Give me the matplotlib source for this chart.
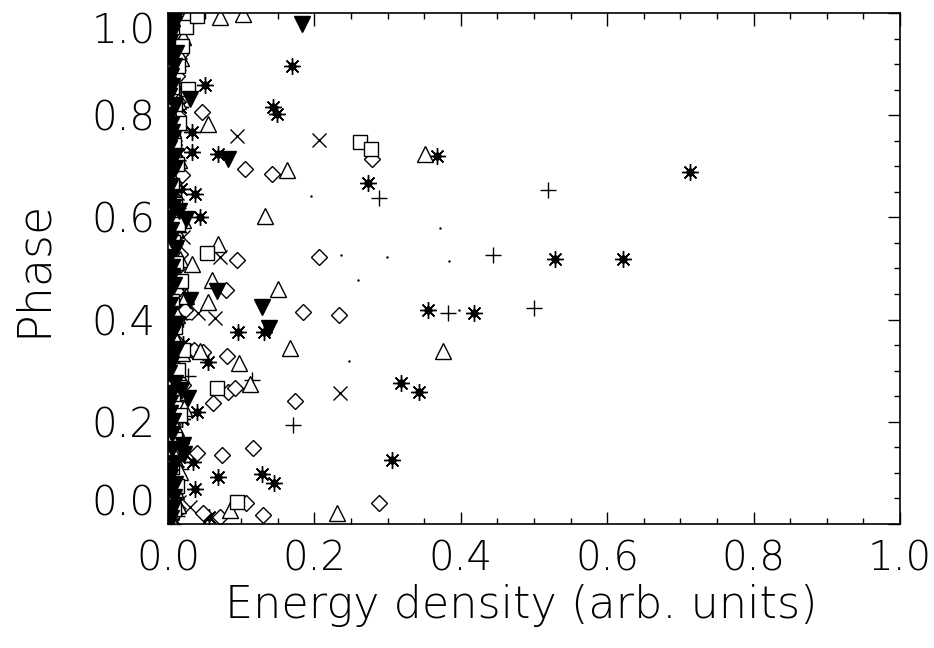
import matplotlib
matplotlib.use("Agg")
import matplotlib.pyplot as plt
from matplotlib.ticker import MultipleLocator

# ---- data (energy density, phase) ----

# asterisks
star_x = [0.004, 0.011, 0.007, 0.015, 0.006, 0.019, 0.009, 0.013, 0.005, 0.021, 0.008, 0.012, 0.017,
          0.006, 0.010, 0.014, 0.007, 0.018, 0.005, 0.011, 0.009, 0.016, 0.006, 0.012, 0.008, 0.014,
          0.051, 0.169, 0.143, 0.149, 0.068, 0.367, 0.273, 0.713, 0.529, 0.622, 0.355, 0.418, 0.318,
          0.343, 0.037, 0.044, 0.096, 0.131, 0.055, 0.040, 0.034, 0.068, 0.128, 0.145, 0.037, 0.056,
          0.306, 0.033, 0.033]
star_y = [0.012, 0.048, 0.083, 0.131, 0.172, 0.205, 0.243, 0.281, 0.318, 0.352, 0.391, 0.428, 0.462,
          0.497, 0.536, 0.571, 0.612, 0.655, 0.693, 0.731, 0.778, 0.815, 0.862, 0.905, 0.942, 0.981,
          0.859, 0.896, 0.815, 0.802, 0.724, 0.720, 0.667, 0.688, 0.519, 0.519, 0.418, 0.412, 0.276,
          0.259, 0.645, 0.600, 0.375, 0.375, 0.316, 0.220, 0.122, 0.092, 0.098, 0.081, 0.069, 0.014,
          0.125, 0.767, 0.727]

# asterisks piled up against the phase axis
pile_x = [0.003, 0.007, 0.004, 0.009, 0.002, 0.006, 0.010, 0.003, 0.008, 0.005, 0.002, 0.007, 0.004,
          0.009, 0.003, 0.006, 0.011, 0.004, 0.002, 0.008, 0.005, 0.003, 0.007, 0.010, 0.004, 0.006,
          0.002, 0.009, 0.005, 0.003, 0.008, 0.004, 0.006, 0.002, 0.010, 0.005, 0.003, 0.007, 0.004,
          0.009, 0.002, 0.006, 0.008, 0.003, 0.005, 0.007, 0.004, 0.010, 0.006, 0.012]
pile_y = [0.004, 0.019, 0.033, 0.061, 0.074, 0.097, 0.112, 0.146, 0.159, 0.188, 0.219, 0.231, 0.258,
          0.270, 0.297, 0.309, 0.334, 0.367, 0.379, 0.404, 0.417, 0.443, 0.454, 0.476, 0.488, 0.513,
          0.524, 0.551, 0.563, 0.585, 0.598, 0.627, 0.640, 0.669, 0.681, 0.708, 0.719, 0.745, 0.757,
          0.790, 0.803, 0.828, 0.840, 0.873, 0.885, 0.918, 0.930, 0.955, 0.968, 0.993]

# plus signs
plus_x = [0.012, 0.007, 0.018, 0.010, 0.005, 0.015, 0.009, 0.027, 0.013, 0.006, 0.020, 0.011, 0.008,
          0.017, 0.010, 0.006, 0.014, 0.009, 0.012, 0.007, 0.016, 0.010, 0.005, 0.013, 0.008, 0.011,
          0.288, 0.519, 0.444, 0.382, 0.500, 0.115, 0.171]
plus_y = [0.015, 0.063, 0.107, 0.151, 0.183, 0.221, 0.266, 0.289, 0.327, 0.363, 0.402, 0.441, 0.473,
          0.505, 0.548, 0.582, 0.618, 0.659, 0.702, 0.738, 0.771, 0.809, 0.851, 0.889, 0.926, 0.965,
          0.637, 0.653, 0.527, 0.413, 0.423, 0.282, 0.194]

# crosses
cross_x = [0.009, 0.015, 0.006, 0.012, 0.008, 0.019, 0.010, 0.007, 0.024, 0.011, 0.016, 0.006, 0.013,
           0.009, 0.020, 0.008, 0.012, 0.006, 0.015, 0.010, 0.007, 0.013, 0.009, 0.016, 0.011, 0.020,
           0.094, 0.206, 0.071, 0.041, 0.064, 0.235, 0.030]
cross_y = [0.008, 0.043, 0.088, 0.126, 0.178, 0.209, 0.249, 0.293, 0.336, 0.374, 0.413, 0.451, 0.488,
           0.531, 0.562, 0.607, 0.648, 0.687, 0.724, 0.763, 0.803, 0.841, 0.883, 0.923, 0.958, 0.990,
           0.759, 0.751, 0.523, 0.412, 0.404, 0.257, 0.033]

# diamonds
diam_x = [0.010, 0.005, 0.014, 0.008, 0.018, 0.006, 0.012, 0.020, 0.009, 0.015, 0.007, 0.023, 0.011,
          0.006, 0.016, 0.009, 0.013, 0.005, 0.019, 0.010, 0.007, 0.014, 0.008, 0.012, 0.017, 0.009,
          0.046, 0.105, 0.142, 0.094, 0.206, 0.079, 0.184, 0.234, 0.080, 0.082, 0.092, 0.173, 0.061,
          0.040, 0.074, 0.116, 0.107, 0.130, 0.048, 0.071, 0.288, 0.278, 0.035, 0.048]
diam_y = [0.022, 0.058, 0.094, 0.118, 0.159, 0.196, 0.232, 0.271, 0.308, 0.347, 0.382, 0.418, 0.455,
          0.491, 0.528, 0.566, 0.603, 0.641, 0.682, 0.719, 0.757, 0.798, 0.836, 0.877, 0.919, 0.961,
          0.806, 0.694, 0.684, 0.516, 0.523, 0.457, 0.414, 0.408, 0.328, 0.259, 0.267, 0.241, 0.237,
          0.139, 0.135, 0.149, 0.041, 0.018, 0.022, 0.014, 0.041, 0.714, 0.340, 0.337]

# open triangles
tri_x = [0.006, 0.013, 0.009, 0.017, 0.005, 0.011, 0.022, 0.008, 0.014, 0.019, 0.007, 0.012, 0.025,
         0.009, 0.016, 0.006, 0.020, 0.011, 0.008, 0.015, 0.006, 0.010, 0.013, 0.007, 0.018, 0.021,
         0.026, 0.071, 0.102, 0.055, 0.163, 0.351, 0.376, 0.133, 0.068, 0.033, 0.060, 0.150, 0.055,
         0.167, 0.097, 0.112, 0.085, 0.231, 0.044]
tri_y = [0.005, 0.037, 0.068, 0.102, 0.145, 0.188, 0.226, 0.262, 0.297, 0.334, 0.371, 0.409, 0.447,
         0.483, 0.519, 0.558, 0.594, 0.633, 0.671, 0.712, 0.748, 0.789, 0.827, 0.868, 0.911, 0.952,
         0.996, 0.992, 0.998, 0.782, 0.692, 0.724, 0.339, 0.602, 0.547, 0.508, 0.478, 0.459, 0.435,
         0.345, 0.315, 0.273, 0.027, 0.022, 0.338]

# open squares
sq_x = [0.008, 0.012, 0.006, 0.010, 0.016, 0.007, 0.013, 0.021, 0.009, 0.005, 0.018, 0.011, 0.007,
        0.014, 0.010, 0.006, 0.012, 0.008, 0.015, 0.009, 0.005, 0.013, 0.019, 0.024, 0.040,
        0.262, 0.277, 0.027, 0.053, 0.067, 0.094]
sq_y = [0.030, 0.074, 0.112, 0.166, 0.214, 0.255, 0.302, 0.341, 0.386, 0.437, 0.476, 0.511, 0.552,
        0.587, 0.626, 0.664, 0.705, 0.741, 0.784, 0.822, 0.856, 0.897, 0.936, 0.972, 0.995,
        0.747, 0.733, 0.851, 0.531, 0.267, 0.043]

# filled down triangles
dtri_x = [0.006, 0.010, 0.022, 0.020, 0.027, 0.018, 0.012, 0.030, 0.024, 0.015, 0.009, 0.030, 0.011,
          0.008, 0.183, 0.082, 0.067, 0.128, 0.138,
          0.004, 0.008, 0.003, 0.010, 0.005, 0.007, 0.003, 0.009, 0.004, 0.012, 0.006, 0.003, 0.008,
          0.005, 0.011, 0.004, 0.007, 0.003, 0.009, 0.006, 0.004, 0.010, 0.005, 0.008, 0.003, 0.007,
          0.002, 0.005, 0.001, 0.004, 0.006, 0.002, 0.003, 0.005, 0.001, 0.004, 0.002, 0.006, 0.003,
          0.001, 0.005, 0.002, 0.004, 0.003, 0.006, 0.001, 0.004, 0.002, 0.005, 0.003, 0.001, 0.004,
          0.002, 0.006, 0.003]
dtri_y = [0.028, 0.079, 0.137, 0.155, 0.247, 0.263, 0.391, 0.439, 0.596, 0.612, 0.721, 0.831, 0.922,
          0.985, 0.978, 0.714, 0.455, 0.424, 0.384,
          0.011, 0.052, 0.091, 0.120, 0.176, 0.201, 0.236, 0.276, 0.314, 0.343, 0.372, 0.410, 0.468,
          0.502, 0.540, 0.576, 0.621, 0.660, 0.697, 0.752, 0.781, 0.818, 0.858, 0.897, 0.944, 0.975,
          0.000, 0.032, 0.070, 0.106, 0.146, 0.188, 0.218, 0.256, 0.295, 0.329, 0.358, 0.392, 0.428,
          0.452, 0.486, 0.521, 0.558, 0.598, 0.640, 0.678, 0.716, 0.736, 0.767, 0.800, 0.838, 0.877,
          0.920, 0.960, 0.998]

# tiny dots
dot_x = [0.299, 0.384, 0.398, 0.260, 0.247, 0.196, 0.236, 0.372]
dot_y = [0.522, 0.514, 0.418, 0.478, 0.318, 0.641, 0.527, 0.580]

plt.rcParams['font.family'] = ['DejaVu Sans']
plt.rcParams['font.weight'] = 'ultralight'
plt.rcParams['axes.labelweight'] = 'ultralight'

fig = plt.figure(figsize=(9.34, 6.48), dpi=100)
ax = fig.add_axes([0.1799, 0.1914, 0.7837, 0.7886])

k = dict(linestyle='none', color='black', clip_on=True)
ax.plot(star_x + pile_x, star_y + pile_y, marker=(8, 2, 0), ms=12, mew=1.0, **k)
ax.plot(star_x + pile_x, star_y + pile_y, marker='o', ms=5, **k)
ax.plot(plus_x, plus_y, marker='+', ms=12, mew=1.0, **k)
ax.plot(cross_x, cross_y, marker='x', ms=10, mew=1.0, **k)
ax.plot(diam_x, diam_y, marker='D', ms=8, mew=1.0, mfc='white', **k)
ax.plot(tri_x, tri_y, marker='^', ms=11, mew=1.0, mfc='white', **k)
ax.plot(sq_x, sq_y, marker='s', ms=10, mew=1.0, mfc='white', **k)
ax.plot(dtri_x, dtri_y, marker='v', ms=12, **k)
ax.plot(dot_x, dot_y, marker='.', ms=1.5, **k)

ax.set_xlim(0, 1.0)
ax.set_ylim(0, 1.0)
ax.set_xticks([0.0, 0.2, 0.4, 0.6, 0.8, 1.0], ['0.0', '0.2', '0.4', '0.6', '0.8', '1.0'])
ax.set_yticks([0.0, 0.2, 0.4, 0.6, 0.8, 1.0], ['0.0', '0.2', '0.4', '0.6', '0.8', '1.0'])
ax.xaxis.set_minor_locator(MultipleLocator(0.05))
ax.yaxis.set_minor_locator(MultipleLocator(0.05))
ax.tick_params(which='both', direction='in', top=True, right=True, width=1.0)
ax.tick_params(which='major', length=9)
ax.tick_params(which='minor', length=4.5)
ax.tick_params(axis='x', which='major', labelsize=29, pad=11)
ax.tick_params(axis='y', which='major', labelsize=29, pad=9)
for s in ax.spines.values():
    s.set_linewidth(1.2)

# end labels on the phase axis sit inside the frame
ylabs = ax.get_yticklabels()
ylabs[0].set_va('bottom')
ylabs[-1].set_va('top')

ax.set_xlabel('Energy density (arb. units)', fontsize=32, labelpad=4)
ax.xaxis.label.set_x(0.482)
ax.set_ylabel('Phase', fontsize=33, labelpad=26)

fig.savefig('out.png', dpi=100)
